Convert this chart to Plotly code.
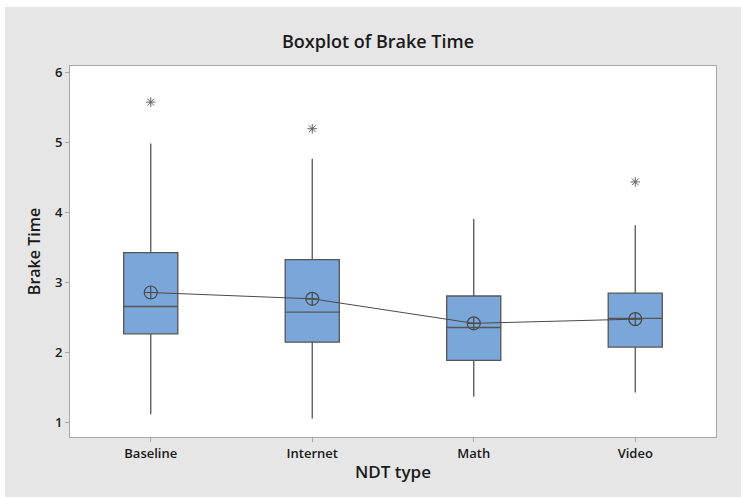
import plotly.graph_objects as go

categories = ["Baseline", "Internet", "Math", "Video"]
q1 = [2.26, 2.14, 1.88, 2.07]
median = [2.65, 2.57, 2.35, 2.48]
q3 = [3.42, 3.32, 2.80, 2.84]
lower_whisker = [1.11, 1.05, 1.36, 1.42]
upper_whisker = [4.98, 4.76, 3.90, 3.81]
means = [2.85, 2.76, 2.41, 2.47]
outlier_cats = ["Baseline", "Internet", "Video"]
outlier_vals = [5.57, 5.19, 4.43]

FONT = "Open Sans"
DARK = "#4a4a4a"

fig = go.Figure()
fig.add_trace(go.Box(
    x=categories, q1=q1, median=median, q3=q3,
    lowerfence=lower_whisker, upperfence=upper_whisker,
    fillcolor="#7ba6d9", line=dict(color="#555555", width=1.3),
    whiskerwidth=0, width=0.335, boxpoints=False, showlegend=False,
))
fig.add_trace(go.Scatter(
    x=categories, y=means, mode="lines+markers",
    line=dict(color=DARK, width=1),
    marker=dict(symbol="circle-cross-open", size=13, color=DARK, line=dict(width=1.2, color=DARK)),
    showlegend=False,
))
fig.add_trace(go.Scatter(
    x=outlier_cats, y=outlier_vals, mode="markers",
    marker=dict(symbol="asterisk-open", size=8, color="#606060", line=dict(width=1, color="#606060")),
    showlegend=False,
))

L, R, T, B = 70, 25, 66, 62
W, H = 741, 499
pw, ph = W - L - R, H - T - B

fig.update_layout(
    width=W, height=H,
    margin=dict(l=L, r=R, t=T, b=B),
    paper_bgcolor="white", plot_bgcolor="white",
    font=dict(family=FONT, color="#1a1a1a"),
    title=dict(text="Boxplot of Brake Time", x=378 / W, xanchor="center", xref="container",
               y=1 - 42 / H, yanchor="middle", yref="container",
               font=dict(size=18, family=FONT, weight=600, color="#1a1a1a")),
    shapes=[
        dict(type="rect", xref="paper", yref="paper", layer="below",
             x0=(5 - L) / pw, x1=(W + 2 - L) / pw,
             y0=(H - B - 497) / ph, y1=(H - B - 7) / ph,
             fillcolor="#e6e6e6", line=dict(width=0)),
        dict(type="rect", xref="paper", yref="paper", layer="below",
             x0=0, x1=1, y0=0, y1=1, fillcolor="white", line=dict(width=0)),
    ],
    xaxis=dict(
        title=dict(text="NDT type", font=dict(size=17, weight=600), standoff=5),
        range=[-0.5, 3.5], showgrid=False, zeroline=False,
        showline=True, mirror=True, linecolor="#a8a8a8", linewidth=1,
        ticks="outside", ticklen=4, tickcolor="#a8a8a8",
        tickfont=dict(size=13, weight=600),
    ),
    yaxis=dict(
        title=dict(text="Brake Time", font=dict(size=16, weight=600), standoff=10),
        range=[0.786, 6.086], tickvals=[1, 2, 3, 4, 5, 6], showgrid=False, zeroline=False,
        showline=True, mirror=True, linecolor="#a8a8a8", linewidth=1,
        ticks="outside", ticklen=4, tickcolor="#a8a8a8",
        tickfont=dict(size=13, weight=600),
    ),
)

fig.write_html("out.html")
